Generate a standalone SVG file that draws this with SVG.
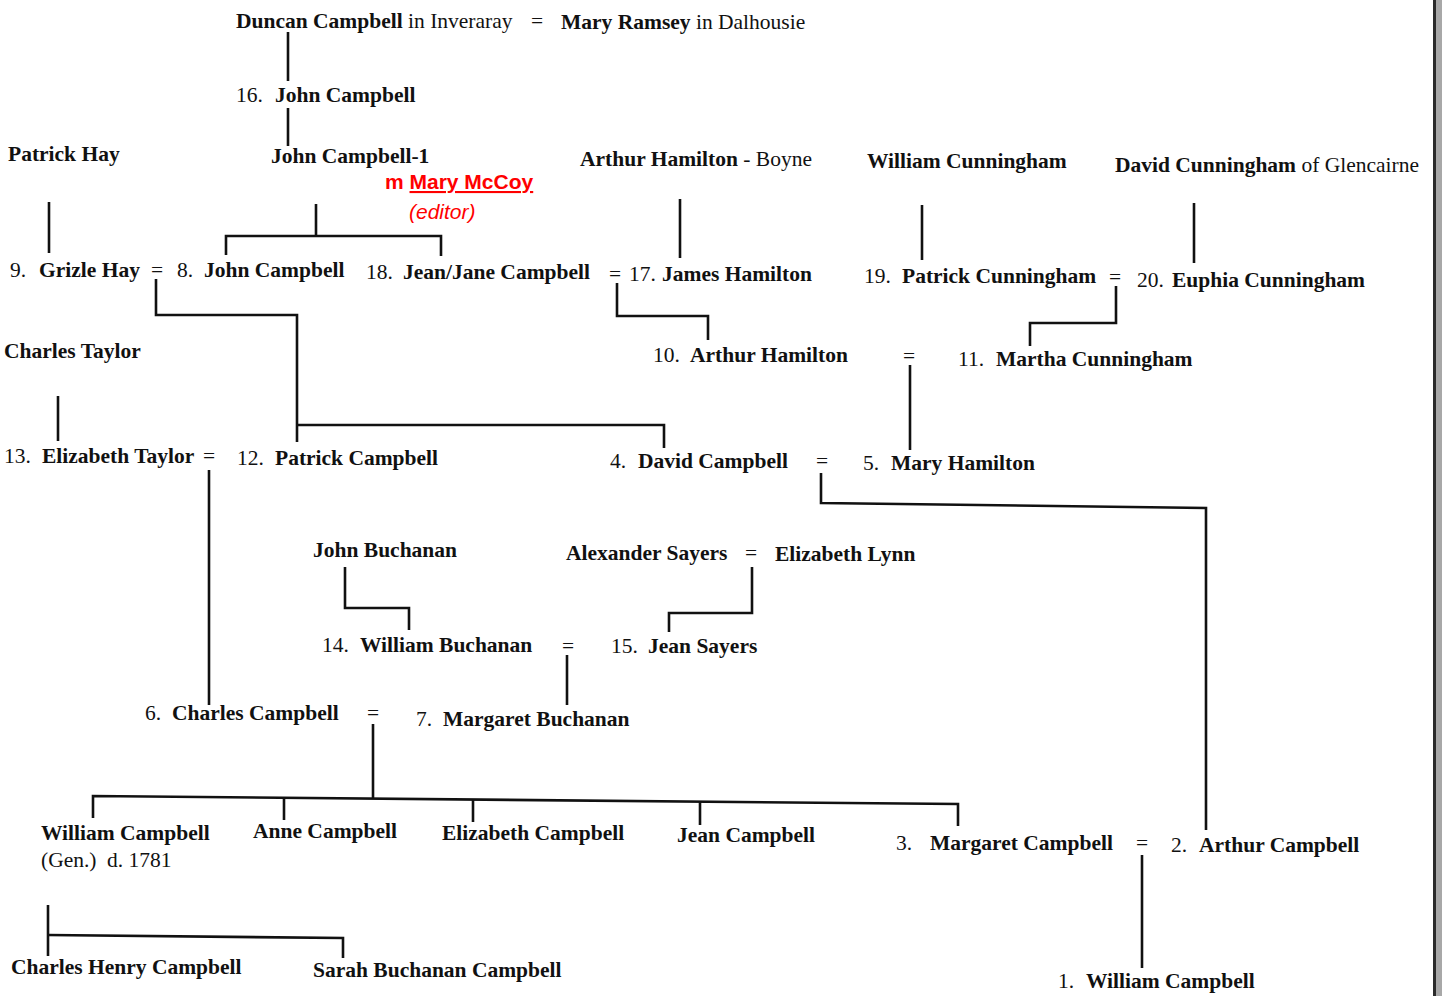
<svg xmlns="http://www.w3.org/2000/svg" width="1442" height="996" viewBox="0 0 1442 996">
<style>
.t{font-family:"Liberation Serif","Times New Roman",serif;font-size:21.5px;fill:#111}
.b{font-weight:bold}
.red{font-family:"Liberation Sans",Arial,sans-serif;font-size:21px;fill:#ff0000}
.ln{stroke:#111;stroke-width:2.6;fill:none;stroke-linejoin:miter}
</style>
<rect width="1442" height="996" fill="#fff"/>
<g id="scan-edge">
<rect x="1434" y="0" width="8" height="996" fill="#a8a8a8"/>
<rect x="1433" y="0" width="3" height="996" fill="#2a2a2a"/>
</g>
<g id="connectors">
<path class="ln" d="M288 32V81"/>
<path class="ln" d="M288 108V146"/>
<path class="ln" d="M49 202V253"/>
<path class="ln" d="M316 204V236M226 255V236H441V256"/>
<path class="ln" d="M680 199V258"/>
<path class="ln" d="M922 205V260"/>
<path class="ln" d="M1194 203V263"/>
<path class="ln" d="M156 279V315H297V442"/>
<path class="ln" d="M297 425H664V448"/>
<path class="ln" d="M617 283V316H708V340"/>
<path class="ln" d="M1116 286V323H1030V346"/>
<path class="ln" d="M910 365V450"/>
<path class="ln" d="M58 396V441"/>
<path class="ln" d="M209 470V705"/>
<path class="ln" d="M821 473V503L1206 508V830"/>
<path class="ln" d="M345 567V608H409V630"/>
<path class="ln" d="M752 567V613H669V632"/>
<path class="ln" d="M567 655V705"/>
<path class="ln" d="M373 724V798"/>
<path class="ln" d="M93 818V796L958 804V826"/>
<path class="ln" d="M284 798V820"/>
<path class="ln" d="M473 800V822"/>
<path class="ln" d="M700 802V825"/>
<path class="ln" d="M1142 855V968"/>
<path class="ln" d="M48 905V956"/>
<path class="ln" d="M48 935L343 938V958"/>
</g>
<g id="duncan"><text class="t" x="236" y="28"><tspan class="b">Duncan Campbell</tspan> in Inveraray</text></g>
<g id="m-duncan"><text class="t" x="531" y="28">=</text></g>
<g id="mary-ramsey"><text class="t" x="561" y="29"><tspan class="b">Mary Ramsey</tspan> in Dalhousie</text></g>
<g id="p16"><text class="t" x="236" y="102">16.<tspan class="b" x="275">John Campbell</tspan></text></g>
<g id="patrick-hay"><text class="t b" x="8" y="161">Patrick Hay</text></g>
<g id="john-campbell-1"><text class="t b" x="271" y="163">John Campbell-1</text></g>
<g id="editor-note">
<text class="red" x="385" y="189" font-weight="bold">m <tspan text-decoration="underline">Mary McCoy</tspan></text>
<text class="red" x="409" y="219" font-style="italic">(editor)</text>
</g>
<g id="arthur-hamilton-boyne"><text class="t" x="580" y="166"><tspan class="b">Arthur Hamilton</tspan> - Boyne</text></g>
<g id="william-cunningham"><text class="t b" x="867" y="168">William Cunningham</text></g>
<g id="david-cunningham"><text class="t" x="1115" y="172"><tspan class="b">David Cunningham</tspan> of Glencairne</text></g>
<g id="p9"><text class="t" x="10" y="277">9.<tspan class="b" x="39">Grizle Hay</tspan></text></g>
<g id="m-9-8"><text class="t" x="151" y="277">=</text></g>
<g id="p8"><text class="t" x="177" y="277">8.<tspan class="b" x="204">John Campbell</tspan></text></g>
<g id="p18"><text class="t" x="366" y="279">18.<tspan class="b" x="403">Jean/Jane Campbell</tspan></text></g>
<g id="m-18-17"><text class="t" x="609" y="281">=</text></g>
<g id="p17"><text class="t" x="629" y="281">17.<tspan class="b" x="662">James Hamilton</tspan></text></g>
<g id="p19"><text class="t" x="864" y="283">19.<tspan class="b" x="902">Patrick Cunningham</tspan></text></g>
<g id="m-19-20"><text class="t" x="1109" y="284">=</text></g>
<g id="p20"><text class="t" x="1137" y="287">20.<tspan class="b" x="1172">Euphia Cunningham</tspan></text></g>
<g id="charles-taylor"><text class="t b" x="4" y="358">Charles Taylor</text></g>
<g id="p10"><text class="t" x="653" y="362">10.<tspan class="b" x="690">Arthur Hamilton</tspan></text></g>
<g id="m-10-11"><text class="t" x="903" y="363">=</text></g>
<g id="p11"><text class="t" x="958" y="366">11.<tspan class="b" x="996">Martha Cunningham</tspan></text></g>
<g id="p13"><text class="t" x="4" y="463">13.<tspan class="b" x="42">Elizabeth Taylor</tspan><tspan x="203">=</tspan></text></g>
<g id="p12"><text class="t" x="237" y="465">12.<tspan class="b" x="275">Patrick Campbell</tspan></text></g>
<g id="p4"><text class="t" x="610" y="468">4.<tspan class="b" x="638">David Campbell</tspan></text></g>
<g id="m-4-5"><text class="t" x="816" y="468">=</text></g>
<g id="p5"><text class="t" x="863" y="470">5.<tspan class="b" x="891">Mary Hamilton</tspan></text></g>
<g id="john-buchanan"><text class="t b" x="313" y="557">John Buchanan</text></g>
<g id="alexander-sayers"><text class="t b" x="566" y="560">Alexander Sayers</text></g>
<g id="m-sayers"><text class="t" x="745" y="560">=</text></g>
<g id="elizabeth-lynn"><text class="t b" x="775" y="561">Elizabeth Lynn</text></g>
<g id="p14"><text class="t" x="322" y="652">14.<tspan class="b" x="360">William Buchanan</tspan></text></g>
<g id="m-14-15"><text class="t" x="562" y="653">=</text></g>
<g id="p15"><text class="t" x="611" y="653">15.<tspan class="b" x="648">Jean Sayers</tspan></text></g>
<g id="p6"><text class="t" x="145" y="720">6.<tspan class="b" x="172">Charles Campbell</tspan></text></g>
<g id="m-6-7"><text class="t" x="367" y="720">=</text></g>
<g id="p7"><text class="t" x="416" y="726">7.<tspan class="b" x="443">Margaret Buchanan</tspan></text></g>
<g id="william-campbell-gen">
<text class="t b" x="41" y="840">William Campbell</text>
<text class="t" x="41" y="867">(Gen.)<tspan x="107">d. 1781</tspan></text>
</g>
<g id="anne-campbell"><text class="t b" x="253" y="838">Anne Campbell</text></g>
<g id="elizabeth-campbell"><text class="t b" x="442" y="840">Elizabeth Campbell</text></g>
<g id="jean-campbell"><text class="t b" x="677" y="842">Jean Campbell</text></g>
<g id="p3"><text class="t" x="896" y="850">3.<tspan class="b" x="930">Margaret Campbell</tspan></text></g>
<g id="m-3-2"><text class="t" x="1136" y="850">=</text></g>
<g id="p2"><text class="t" x="1171" y="852">2.<tspan class="b" x="1199">Arthur Campbell</tspan></text></g>
<g id="p1"><text class="t" x="1058" y="988">1.<tspan class="b" x="1086">William Campbell</tspan></text></g>
<g id="charles-henry-campbell"><text class="t b" x="11" y="974">Charles Henry Campbell</text></g>
<g id="sarah-buchanan-campbell"><text class="t b" x="313" y="977">Sarah Buchanan Campbell</text></g>
</svg>
